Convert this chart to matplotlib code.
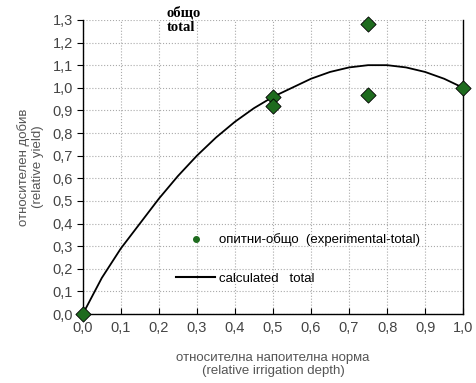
import matplotlib.pyplot as plt
from matplotlib.lines import Line2D

# опитни данни (experimental)
x_exp = [0.0, 0.5, 0.5, 0.75, 0.75, 1.0]
y_exp = [0.0, 0.96, 0.92, 1.28, 0.97, 1.0]

# изчислена крива (calculated), отчетена от графиката
x_calc = [0.0, 0.05, 0.1, 0.15, 0.2, 0.25, 0.3, 0.35, 0.4, 0.45, 0.5,
          0.55, 0.6, 0.65, 0.7, 0.75, 0.8, 0.85, 0.9, 0.95, 1.0]
y_calc = [0.0, 0.16, 0.29, 0.40, 0.51, 0.61, 0.70, 0.78, 0.85, 0.91, 0.96,
          1.00, 1.04, 1.07, 1.09, 1.10, 1.10, 1.09, 1.07, 1.04, 1.0]

x_ticks = [i / 10 for i in range(11)]
y_ticks = [i / 10 for i in range(14)]

plt.rcParams['font.family'] = ['Liberation Sans', 'DejaVu Sans']

fig = plt.figure(figsize=(4.76, 3.83), dpi=100)
ax = fig.add_axes([0.174, 0.180, 0.799, 0.768])

ax.plot(x_calc, y_calc, color='black', lw=1.3, zorder=3)
ax.scatter(x_exp, y_exp, marker='D', s=60, color='#1e6b1e', edgecolor='black',
           linewidth=0.6, zorder=4, clip_on=False)

ax.set_xlim(0, 1.0)
ax.set_ylim(0, 1.3)
ax.set_xticks(x_ticks)
ax.set_yticks(y_ticks)
ax.set_xticklabels([f'{v:.1f}'.replace('.', ',') for v in x_ticks], fontsize=10.5, color='#444444')
ax.set_yticklabels([f'{v:.1f}'.replace('.', ',') for v in y_ticks], fontsize=10.5, color='#444444')
ax.tick_params(axis='y', length=4, width=0.8, pad=3)
ax.tick_params(axis='x', direction='in', length=4, width=0.8, pad=5)

ax.grid(True, color='#aaaaaa', linestyle=':', linewidth=0.8)
ax.spines['top'].set_visible(False)
for s in ['left', 'bottom', 'right']:
    ax.spines[s].set_linewidth(1.0)

ax.set_xlabel('относителна напоителна норма\n(relative irrigation depth)',
              fontsize=9.5, color='#555555', labelpad=12)
ax.set_ylabel('относителен добив\n(relative yield)',
              fontsize=9.5, color='#555555', labelpad=6)

ax.text(0.22, 1.36, 'общо\ntotal', fontsize=10.5, fontweight='bold',
        family='Liberation Serif', va='top', ha='left', linespacing=1.1)

handles = [
    Line2D([], [], marker='o', ls='none', color='#1e6b1e', markersize=4),
    Line2D([], [], color='black', lw=1.5),
]
labels = ['опитни-общо  (experimental-total)', 'calculated   total']
ax.legend(handles, labels, loc='upper left', bbox_to_anchor=(0.215, 0.315),
          frameon=False, fontsize=9.5, handlelength=2.9, labelspacing=2.0,
          handletextpad=0.3)

fig.savefig('out.png', dpi=100)
